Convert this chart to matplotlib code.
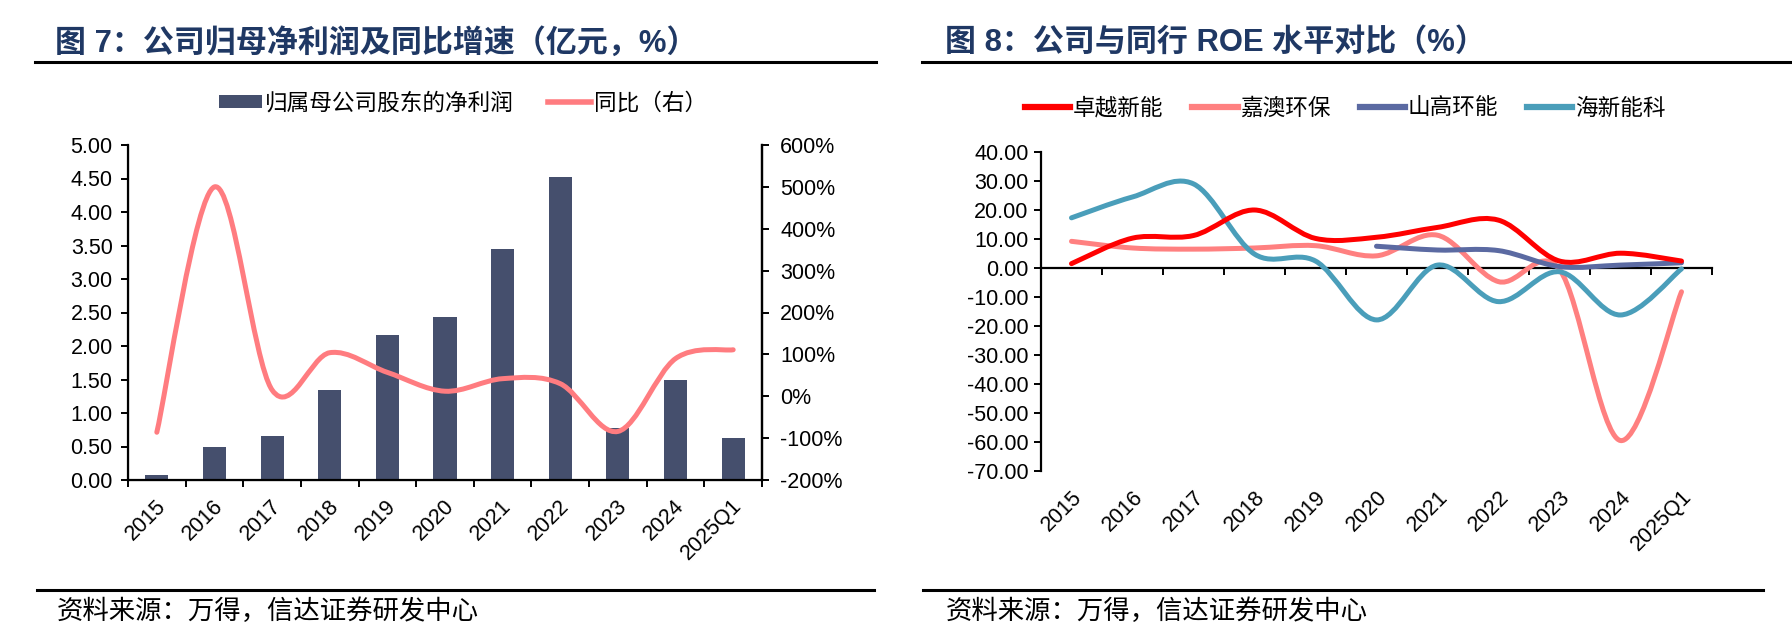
import numpy as np
import matplotlib
matplotlib.use("Agg")
import matplotlib.pyplot as plt
from matplotlib.path import Path
from matplotlib.patches import PathPatch, Patch
from matplotlib.lines import Line2D
from matplotlib.transforms import blended_transform_factory
from matplotlib.ticker import FormatStrFormatter

plt.rcParams['font.family'] = ['Liberation Sans', 'Noto Sans CJK SC', 'DejaVu Sans']
plt.rcParams['axes.unicode_minus'] = False

# ---------------- 数据 ----------------
years = ['2015', '2016', '2017', '2018', '2019', '2020', '2021', '2022', '2023', '2024', '2025Q1']

# 图7：归母净利润（亿元）与同比（%）
net_profit = [0.08, 0.50, 0.65, 1.34, 2.16, 2.43, 3.45, 4.52, 0.78, 1.49, 0.62]
yoy = [-86, 500, 15, 104, 57, 12, 42, 30, -84, 90, 111]

# 图8：ROE（%）
roe_zhuoyue = [1.5, 10.3, 11.2, 20.0, 10.2, 10.6, 14.0, 16.5, 2.4, 5.1, 2.4]
roe_jiaao = [9.2, 6.9, 6.5, 6.9, 7.7, 4.2, 11.3, -4.7, -0.5, -59.5, -8.2]
roe_shangao = [np.nan, np.nan, np.nan, np.nan, np.nan, 7.5, 6.2, 6.0, 0.5, 1.0, 1.8]
roe_haixin = [17.3, 24.5, 29.0, 4.8, 2.4, -17.9, 1.0, -11.6, -1.3, -16.2, -0.3]

TITLE7 = '图 7：公司归母净利润及同比增速（亿元，%）'
TITLE8 = '图 8：公司与同行 ROE 水平对比（%）'
SOURCE = '资料来源：万得，信达证券研发中心'

# ---------------- 样式 ----------------
W, H = 1792, 640
NAVY = '#1F3864'
BAR_C = '#454F6D'
PINK = '#FF7C80'
C_ZY = '#FF0000'
C_JA = '#FF8080'
C_SG = '#5B6AA2'
C_HX = '#4A9EBA'
TICK_FS = 15.5
LEG_FS = 16.3
CJK = ['Noto Sans CJK SC', 'DejaVu Sans']


def smooth_path(xs, ys, t=1 / 6):
    """Excel 风格平滑线：以数据点为锚点的三次贝塞尔"""
    pts = np.column_stack([xs, ys])
    n = len(pts)
    verts = [pts[0]]
    codes = [Path.MOVETO]
    for i in range(n - 1):
        p0 = pts[i - 1] if i > 0 else pts[i]
        p1, p2 = pts[i], pts[i + 1]
        p3 = pts[i + 2] if i + 2 < n else pts[i + 1]
        verts += [p1 + (p2 - p0) * t, p2 - (p3 - p1) * t, p2]
        codes += [Path.CURVE4] * 3
    return Path(verts, codes)


def draw_smooth(ax, values, color, lw=3.6):
    x = np.arange(len(values), dtype=float)
    y = np.asarray(values, dtype=float)
    ok = ~np.isnan(y)
    patch = PathPatch(smooth_path(x[ok], y[ok]), fill=False, edgecolor=color,
                      lw=lw, capstyle='round', joinstyle='round', zorder=3)
    ax.add_patch(patch)


def fx(px):
    return px / W


def fy(py):
    return 1 - py / H


fig = plt.figure(figsize=(W / 100, H / 100), dpi=100)

# =============================================================================
# 图7
# =============================================================================
ax1 = fig.add_axes([fx(128), fy(480), (762 - 128) / W, (480 - 145) / H])
xi = np.arange(len(years))
ax1.bar(xi, net_profit, width=0.4, color=BAR_C, zorder=2)
ax1.set_xlim(-0.5, len(years) - 0.5)
ax1.set_ylim(0, 5)
ax1.set_yticks(np.arange(0, 5.01, 0.5))
ax1.yaxis.set_major_formatter(FormatStrFormatter('%.2f'))
ax1.set_xticks(np.arange(-0.5, len(years), 1))
ax1.set_xticklabels([])
ax1.spines['top'].set_visible(False)
for s in ['left', 'right', 'bottom']:
    ax1.spines[s].set_linewidth(1.6)
ax1.tick_params(axis='both', direction='out', length=5, width=1.4,
                labelsize=TICK_FS, pad=6)

ax1b = ax1.twinx()
ax1b.set_ylim(-200, 600)
ax1b.set_yticks(np.arange(-200, 601, 100))
ax1b.set_yticklabels([f'{v}%' for v in range(-200, 601, 100)])
ax1b.spines['top'].set_visible(False)
ax1b.spines['right'].set_linewidth(1.6)
ax1b.tick_params(axis='y', direction='out', length=5, width=1.4,
                 labelsize=TICK_FS, pad=8)
draw_smooth(ax1b, yoy, PINK, lw=3.6)

tr1 = blended_transform_factory(ax1.transData, ax1.transAxes)
for i, lab in enumerate(years):
    ax1.text(i + 0.1, -0.068, lab, transform=tr1, rotation=45, ha='right',
             va='center', rotation_mode='anchor', fontsize=TICK_FS)

leg1 = fig.legend(
    [Patch(facecolor=BAR_C), Line2D([], [], color=PINK, lw=4)],
    ['归属母公司股东的净利润', '同比（右）'],
    loc='center', bbox_to_anchor=(fx(463), fy(103)), ncol=2, frameon=False,
    prop={'family': CJK, 'size': LEG_FS}, handlelength=1.9, handleheight=0.55,
    handletextpad=0.15, columnspacing=1.5)

# =============================================================================
# 图8
# =============================================================================
ax2 = fig.add_axes([fx(1041), fy(471), (1712 - 1041) / W, (471 - 152) / H])
ax2.set_xlim(-0.5, len(years) - 0.5)
ax2.set_ylim(-70, 40)
ax2.set_yticks(np.arange(-70, 40.1, 10))
ax2.yaxis.set_major_formatter(FormatStrFormatter('%.2f'))
ax2.set_xticks(np.arange(-0.5, len(years), 1))
ax2.set_xticklabels([])
ax2.spines['bottom'].set_position(('data', 0))
ax2.spines['top'].set_visible(False)
ax2.spines['right'].set_visible(False)
ax2.spines['left'].set_linewidth(1.6)
ax2.spines['bottom'].set_linewidth(1.6)
ax2.tick_params(axis='both', direction='out', length=5, width=1.4,
                labelsize=TICK_FS, pad=4)

draw_smooth(ax2, roe_jiaao, C_JA)
draw_smooth(ax2, roe_shangao, C_SG)
draw_smooth(ax2, roe_haixin, C_HX)
draw_smooth(ax2, roe_zhuoyue, C_ZY)

tr2 = blended_transform_factory(ax2.transData, ax2.transAxes)
for i, lab in enumerate(years):
    ax2.text(i + 0.12, -0.072, lab, transform=tr2, rotation=45, ha='right',
             va='center', rotation_mode='anchor', fontsize=TICK_FS)

leg2 = fig.legend(
    [Line2D([], [], color=c, lw=4.5) for c in [C_ZY, C_JA, C_SG, C_HX]],
    ['卓越新能', '嘉澳环保', '山高环能', '海新能科'],
    loc='center', bbox_to_anchor=(fx(1345), fy(108)), ncol=4, frameon=False,
    prop={'family': CJK, 'size': LEG_FS}, handlelength=2.0,
    handletextpad=0.1, columnspacing=1.3)

# =============================================================================
# 标题、分隔线与来源
# =============================================================================
fig.text(fx(55), fy(43), TITLE7, fontsize=22.3, weight='bold', color=NAVY,
         ha='left', va='center')
fig.text(fx(945), fy(43), TITLE8, fontsize=22.3, weight='bold', color=NAVY,
         ha='left', va='center')

for x0, x1, yy in [(35, 876, 62), (922, 1792, 62), (37, 874, 590), (923, 1763, 590)]:
    fig.add_artist(Line2D([fx(x0), fx(x1)], [fy(yy), fy(yy)], color='black', lw=2.2))

fig.text(fx(57), fy(611), SOURCE, fontsize=19, family=CJK, ha='left', va='center')
fig.text(fx(946), fy(611), SOURCE, fontsize=19, family=CJK, ha='left', va='center')

fig.savefig('out.png', dpi=100)
